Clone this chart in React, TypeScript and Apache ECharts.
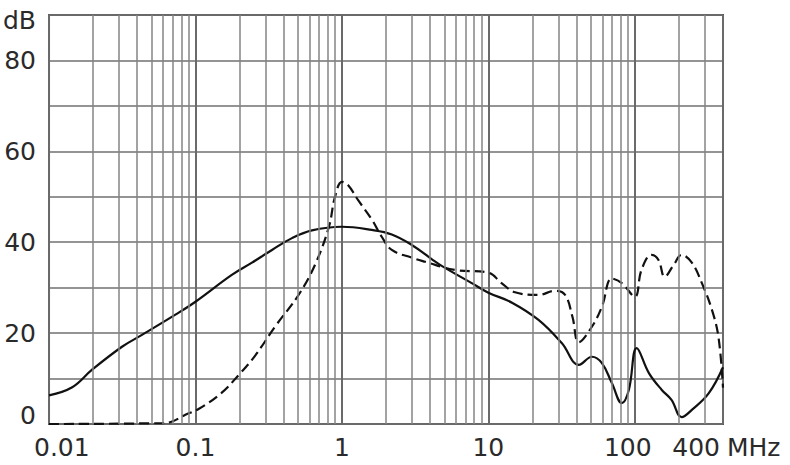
import { useEffect, useRef } from 'react';
import * as echarts from 'echarts';

// ---- data ----
const xTickValues = [0.01, 0.1, 1, 10, 100, 400];
const xTickLabels = ['0.01', '0.1', '1', '10', '100', '400'];
const xUnit = 'MHz';
const yUnit = 'dB';
const yLabelValues = [0, 20, 40, 60, 80];

const minorFreqs = [
  0.02, 0.03, 0.04, 0.05, 0.06, 0.07, 0.08, 0.09,
  0.2, 0.3, 0.4, 0.5, 0.6, 0.7, 0.8, 0.9,
  2, 3, 4, 5, 6, 7, 8, 9,
  20, 30, 40, 50, 60, 70, 80, 90,
  200, 300,
];

const solidFreq = [0.01, 0.0144, 0.0196, 0.0315, 0.0431, 0.0725, 0.1, 0.177, 0.243, 0.333, 0.456, 0.624, 1, 1.6, 2.19, 3.0, 4.1, 4.8, 7.7, 10, 14.5, 22, 31.7, 41.5, 50.9, 59.6, 69.7, 81.5, 91, 103, 124.8, 152.8, 178, 209, 245, 320, 400];
const solidDb = [6.3, 8.1, 11.9, 17, 19.6, 24, 26.9, 32.8, 35.5, 38.3, 40.9, 42.6, 43.4, 42.7, 41.7, 39.4, 36.3, 34.8, 31, 28.9, 26.7, 22.9, 17.8, 13, 14.8, 13.4, 9, 4.6, 7.5, 16.7, 11.2, 7.5, 5.3, 1.5, 3.1, 6.8, 12.5];

const dashedFreq = [0.01, 0.06, 0.07, 0.0847, 0.105, 0.15, 0.2, 0.255, 0.349, 0.508, 0.654, 0.815, 0.897, 1.0, 1.1, 1.287, 1.6, 1.87, 2.19, 3.0, 3.7, 5.9, 10, 12.3, 15.2, 22, 28.4, 33.4, 37.5, 41.5, 50.9, 59.6, 69.7, 81.5, 100, 111, 130, 145, 160, 184, 209, 245, 287, 337, 373, 400];
const dashedDb = [0, 0.2, 0.6, 2, 3.3, 6.8, 11, 15, 21.4, 28.5, 35, 43.4, 50, 53.3, 52.6, 49.3, 45, 41.2, 38.3, 36.6, 35.7, 33.9, 33.3, 31, 29, 28.4, 29.3, 28.4, 23.6, 18, 21.4, 25.8, 32, 31, 28, 33.9, 37.2, 36.1, 32.4, 35, 37.2, 35.5, 31, 25, 19, 8];

const FONT = 'DejaVu Sans';
const TEXT = '#2a2a2a';

export default function App() {
  const ref = useRef<HTMLDivElement>(null);
  useEffect(() => {
    if (!ref.current) return;
    const chart = echarts.init(ref.current, undefined, { renderer: 'svg' });
    const option: any = {
      animation: false,
      backgroundColor: '#ffffff',
      grid: { left: 47, top: 15, right: 67, bottom: 41, show: true, borderColor: '#555', borderWidth: 2, backgroundColor: 'transparent' },
      xAxis: {
        type: 'log', logBase: 10, min: 0.01, max: 400,
        axisLine: { show: false }, axisTick: { show: false }, axisLabel: { show: false },
        splitLine: { show: true, lineStyle: { color: '#6a6a6a', width: 2 } },
      },
      yAxis: {
        type: 'value', min: 0, max: 90, interval: 10,
        axisLine: { show: false }, axisTick: { show: false },
        splitLine: { show: true, lineStyle: { color: '#707070', width: 1.6 } },
        axisLabel: {
          margin: 13, fontFamily: FONT, fontSize: 25, color: TEXT,
          formatter: (v: number) => {
            if (v === 90) return '{u|' + yUnit + '}';
            if (v === 0) return '{z|0}';
            return yLabelValues.indexOf(v) >= 0 ? String(v) : '';
          },
          rich: {
            u: { fontFamily: FONT, fontSize: 25, color: TEXT, padding: [10, 0, 0, 0] },
            z: { fontFamily: FONT, fontSize: 25, color: TEXT, padding: [0, 0, 18, 0] },
          },
        },
      },
      series: [
        {
          type: 'line', data: [[1, -10]], showSymbol: false, silent: true, z: 1,
          lineStyle: { opacity: 0 },
          markLine: {
            silent: true, symbol: ['none', 'none'], label: { show: false },
            lineStyle: { color: '#858585', width: 1.5, type: 'solid' },
            data: minorFreqs.map((v) => ({ xAxis: v })),
          },
        },
        {
          type: 'line', z: 3, smooth: 0.4, showSymbol: false,
          data: solidFreq.map((f, i) => [f, solidDb[i]]),
          lineStyle: { color: '#111', width: 2.2 },
        },
        {
          type: 'line', z: 3, smooth: 0.4, showSymbol: false,
          data: dashedFreq.map((f, i) => [f, dashedDb[i]]),
          lineStyle: { color: '#111', width: 2.2, type: [10, 5] },
        },
      ],
    };
    chart.setOption(option);

    const labelY = 447;
    const graphics: any[] = xTickValues.map((v, i) => {
      const px = chart.convertToPixel({ xAxisIndex: 0 }, v) as number;
      let x = px;
      let align = 'center';
      if (i === 0) { x = px - 15; align = 'left'; }
      else if (i === xTickValues.length - 1) { x = px - 3; align = 'right'; }
      else if (i === xTickValues.length - 2) { x = px - 7; }
      return {
        type: 'text', x, y: labelY,
        style: { text: xTickLabels[i], fontFamily: FONT, fontSize: 25, fill: TEXT, textAlign: align, textVerticalAlign: 'middle' },
      };
    });
    const lastPx = chart.convertToPixel({ xAxisIndex: 0 }, xTickValues[xTickValues.length - 1]) as number;
    graphics.push({
      type: 'text', x: lastPx + 4, y: labelY,
      style: { text: xUnit, fontFamily: FONT, fontSize: 25, fill: TEXT, textAlign: 'left', textVerticalAlign: 'middle' },
    });
    chart.setOption({ graphic: graphics });

    return () => chart.dispose();
  }, []);
  return <div ref={ref} style={{ position: 'fixed', left: 0, top: 0, width: 790, height: 465 }} />;
}
